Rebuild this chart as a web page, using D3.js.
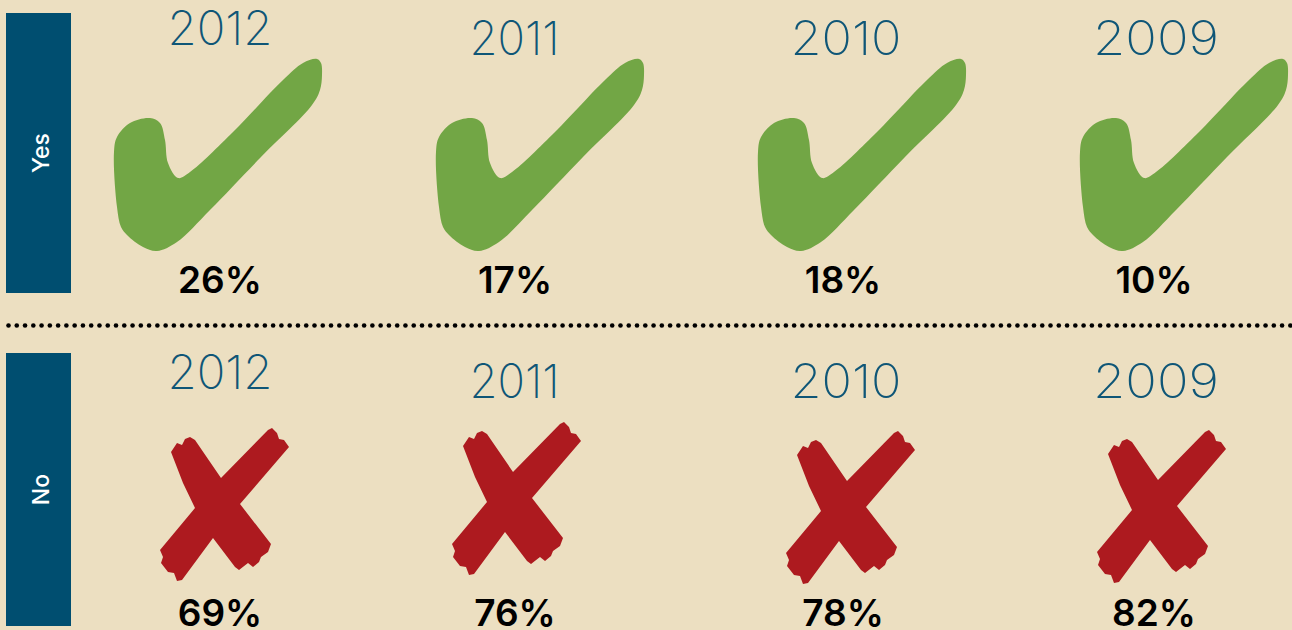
<!DOCTYPE html>
<html>
<head>
<meta charset="utf-8">
<script src="https://cdn.jsdelivr.net/npm/d3@7"></script>
<style>
    html, body { margin: 0; padding: 0; background: #ecdfc1; overflow: hidden; }
    text { font-family: Inter, "Open Sans", sans-serif; }
    .year { font-size: 47px; font-weight: 200; fill: #0f5677; text-anchor: middle; }
    .pct { font-size: 37px; font-weight: 600; fill: #000; text-anchor: middle; }
    .side { font-size: 23px; font-weight: 500; fill: #fff; text-anchor: middle; }
</style>
</head>
<body>
<svg id="mysvg" width="1292" height="630"></svg>
<script>
const years = ['2012', '2011', '2010', '2009'];
const yesValues = [26, 17, 18, 10];
const noValues = [69, 76, 78, 82];

// hand traced glyphs, local pixels
const checkGlyph = [[203,0],[207,4],[208,16],[206,31],[198,46],[147,98],[96,151],[63,183],[43,192],[29,188],[13,176],[7,168],[3,148],[0,93],[3,78],[16,64],[36,59],[46,64],[51,81],[54,104],[64,119],[76,113],[119,73],[169,21],[189,4]];
const crossGlyph = [[11,24],[17,15],[22,17],[25,11],[30,9],[35,12],[61,50],[108,2],[112,0],[117,5],[119,11],[124,12],[129,19],[80,76],[111,116],[108,124],[101,129],[99,134],[93,139],[88,135],[79,142],[75,139],[53,110],[22,152],[17,153],[14,145],[8,144],[1,135],[3,129],[0,122],[35,80],[23,55]];

// the columns are not evenly spaced in the original
const yearX = d3.scaleOrdinal().domain(years).range([220, 514.5, 846, 1156]);
const yearWidth = d3.scaleOrdinal().domain(years).range([105, 90, 111, 126]);
const pctX = d3.scaleOrdinal().domain(years).range([220, 515, 843, 1154]);
const checkX = d3.scaleOrdinal().domain(years).range([114, 436, 758, 1080]);
const crossX = d3.scaleOrdinal().domain(years).range([160, 452, 786, 1097]);
const crossY = d3.scaleOrdinal().domain(years).range([428, 422, 431, 430]);
const yesYearY = d3.scaleOrdinal().domain(years).range([45, 55, 55, 55]);
const noYearY = d3.scaleOrdinal().domain(years).range([389, 398, 398, 398]);

const svg = d3.select('#mysvg');

const checkPath = d3.line().curve(d3.curveCatmullRomClosed.alpha(0.5))(checkGlyph);
const crossPath = d3.line().curve(d3.curveLinearClosed)(crossGlyph);

// side bars
const sides = [
    { label: 'Yes', y: 13, h: 280 },
    { label: 'No', y: 353, h: 273 }
];
svg.selectAll('rect.side-bar').data(sides).join('rect')
    .attr('class', 'side-bar')
    .attr('x', 6).attr('width', 65)
    .attr('y', d => d.y).attr('height', d => d.h)
    .attr('fill', '#004e70');
svg.selectAll('text.side').data(sides).join('text')
    .attr('class', 'side')
    .attr('transform', d => `translate(48.5,${d.y + d.h / 2}) rotate(-90)`)
    .text(d => d.label);

// dotted divider
svg.selectAll('circle.dot').data(d3.range(8.5, 1292, 8.27)).join('circle')
    .attr('class', 'dot')
    .attr('cx', d => d).attr('cy', 325.5).attr('r', 2.3)
    .attr('fill', '#000');

// yes row
svg.selectAll('text.yes-year').data(years).join('text')
    .attr('class', 'year yes-year')
    .attr('x', d => yearX(d)).attr('y', d => yesYearY(d))
    .attr('textLength', d => yearWidth(d))
    .attr('lengthAdjust', 'spacingAndGlyphs')
    .text(d => d);
svg.selectAll('path.check').data(years).join('path')
    .attr('class', 'check')
    .attr('d', checkPath)
    .attr('transform', d => `translate(${checkX(d)},59)`)
    .attr('fill', '#72a645');
svg.selectAll('text.yes-pct').data(yesValues).join('text')
    .attr('class', 'pct yes-pct')
    .attr('x', (d, i) => pctX(years[i])).attr('y', 293)
    .text(d => d + '%');

// no row
svg.selectAll('text.no-year').data(years).join('text')
    .attr('class', 'year no-year')
    .attr('x', d => yearX(d)).attr('y', d => noYearY(d))
    .attr('textLength', d => yearWidth(d))
    .attr('lengthAdjust', 'spacingAndGlyphs')
    .text(d => d);
svg.selectAll('path.cross').data(years).join('path')
    .attr('class', 'cross')
    .attr('d', crossPath)
    .attr('transform', d => `translate(${crossX(d)},${crossY(d)})`)
    .attr('fill', '#ad1a1f');
svg.selectAll('text.no-pct').data(noValues).join('text')
    .attr('class', 'pct no-pct')
    .attr('x', (d, i) => pctX(years[i])).attr('y', 625.5)
    .text(d => d + '%');
</script>
</body>
</html>
